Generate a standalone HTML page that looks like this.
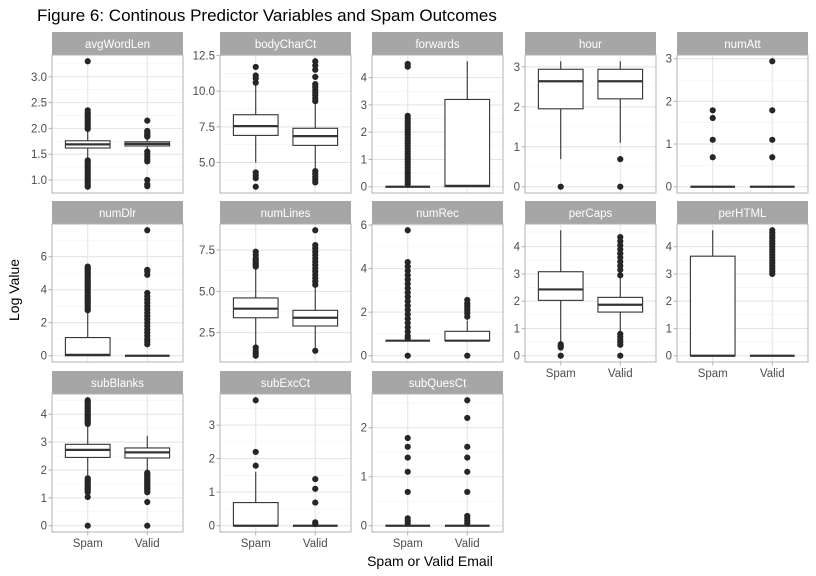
<!DOCTYPE html>
<html><head><meta charset="utf-8"><style>
body{margin:0;background:#fff;}
svg{display:block;font-family:"Liberation Sans",sans-serif;}
</style></head><body>
<svg id="chart" width="816" height="576" xmlns="http://www.w3.org/2000/svg">
<text x="37" y="21" font-size="17" fill="#000">Figure 6: Continous Predictor Variables and Spam Outcomes</text>
<text transform="translate(19,290) rotate(-90)" text-anchor="middle" font-size="14" fill="#000">Log Value</text>
<text x="430" y="566" text-anchor="middle" font-size="14" fill="#000">Spam or Valid Email</text>
<g id="panels"></g>
</svg>
<script>
const categories = ["Spam","Valid"];
const panelNames = ["avgWordLen","bodyCharCt","forwards","hour","numAtt","numDlr","numLines","numRec","perCaps","perHTML","subBlanks","subExcCt","subQuesCt"];
const yTicks = [[1,1.5,2,2.5,3],[5,7.5,10,12.5],[0,1,2,3,4],[0,1,2,3],[0,1,2,3],[0,2,4,6],[2.5,5,7.5],[0,2,4,6],[0,1,2,3,4],[0,1,2,3,4],[0,1,2,3,4],[0,1,2,3],[0,1,2]];
// box stats per panel: [q1, median, q3, whiskerLow, whiskerHigh]
const spamStats = [[1.62,1.69,1.76,1.41,1.97],[6.9,7.55,8.35,5.0,10.5],[0,0,0,0,0],[1.95,2.64,2.94,0.69,3.14],[0,0,0,0,0],[0,0.05,1.1,0,2.7],[3.4,3.95,4.6,1.7,6.4],[0.69,0.69,0.69,0.69,0.69],[2.03,2.43,3.08,0.5,4.6],[0,0,3.65,0,4.6],[2.45,2.72,2.92,1.75,3.6],[0,0,0.69,0,1.61],[0,0,0,0,0]];
const validStats = [[1.66,1.7,1.74,1.57,1.82],[6.2,6.85,7.4,4.5,9.2],[0,0.03,3.2,0,4.6],[2.2,2.64,2.94,1.1,3.14],[0,0,0,0,0],[0,0,0,0,0],[2.9,3.4,3.85,1.6,5.3],[0.69,0.69,1.12,0.69,1.61],[1.6,1.87,2.14,0.85,2.9],[0,0,0,0,0],[2.43,2.63,2.79,1.95,3.22],[0,0,0,0,0],[0,0,0,0,0]];
const spamOutliers = [
 [3.3,2.35,2.3,2.26,2.22,2.18,2.14,2.1,2.06,2.02,1.99,1.38,1.34,1.3,1.26,1.22,1.18,1.14,1.1,1.06,1.02,0.98,0.94,0.9,0.87],
 [11.7,11.1,10.9,10.6,4.3,4.1,3.9,3.3],
 [4.5,4.4,2.6,2.5,2.4,2.3,2.2,2.1,2.0,1.9,1.8,1.7,1.6,1.5,1.4,1.3,1.2,1.1,1.0,0.9,0.8,0.7,0.6,0.5,0.4,0.3,0.2,0.1],
 [0],
 [0.69,1.1,1.61,1.79],
 [5.4,5.3,5.2,5.1,5.0,4.9,4.8,4.7,4.6,4.5,4.4,4.3,4.2,4.1,4.0,3.9,3.8,3.7,3.6,3.5,3.4,3.3,3.2,3.1,3.0,2.9,2.8,2.75],
 [7.4,7.2,7.0,6.9,6.8,6.7,6.6,6.5,1.6,1.4,1.25,1.1],
 [5.76,4.3,4.1,3.9,3.7,3.5,3.3,3.1,2.9,2.7,2.5,2.3,2.1,1.9,1.7,1.5,1.3,1.1,0.9,0.8,0],
 [0.42,0.35,0.3,0],
 [],
 [4.5,4.45,4.4,4.35,4.3,4.25,4.2,4.15,4.1,4.05,4.0,3.95,3.9,3.85,3.8,3.75,3.7,3.65,1.7,1.65,1.6,1.55,1.5,1.45,1.4,1.35,1.3,1.25,1.2,1.03,0],
 [1.79,2.2,3.74],
 [0.05,0.1,0.15,0.69,1.1,1.39,1.61,1.79]
];
const validOutliers = [
 [2.15,1.95,1.92,1.89,1.86,1.84,1.55,1.5,1.45,1.4,1.36,1.0,0.92,0.88],
 [12.1,11.8,11.5,11.0,10.5,10.3,10.1,9.9,9.7,9.5,9.3,4.4,4.2,4.0,3.8,3.6],
 [],
 [0.69,0],
 [0.69,1.1,1.79,2.94],
 [7.6,5.2,5.1,4.9,3.8,3.6,3.4,3.2,3.0,2.8,2.6,2.4,2.2,2.0,1.8,1.6,1.4,1.2,1.0,0.85,0.69],
 [8.7,7.8,7.6,7.4,7.2,7.0,6.8,6.6,6.4,6.2,6.0,5.8,5.6,5.4,1.4],
 [2.56,2.4,2.3,2.2,2.08,1.95,1.79,0],
 [4.35,4.2,4.05,3.9,3.75,3.6,3.45,3.3,3.15,2.95,0.8,0.7,0.6,0.5,0.4,0],
 [4.6,4.5,4.4,4.3,4.2,4.1,4.0,3.9,3.8,3.7,3.6,3.5,3.4,3.3,3.2,3.1,3.0],
 [1.9,1.85,1.8,1.75,1.7,1.65,1.6,1.55,1.5,1.45,1.4,1.35,1.3,1.25,1.2,0.85,0],
 [0.05,0.1,0.69,1.1,1.39],
 [0.05,0.1,0.15,0.2,0.69,1.1,1.39,1.61,2.2,2.56]
];

const NS="http://www.w3.org/2000/svg";
const root=document.getElementById('panels');
const colLeft=[52,220,372,525,677], rowTop=[32,201,371];
const PW=131, SH=23, PH=138;
function mk(tag,attrs,parent){const e=document.createElementNS(NS,tag);for(const k in attrs)e.setAttribute(k,attrs[k]);parent.appendChild(e);return e;}

panelNames.forEach((name,i)=>{
  const col=i%5,row=Math.floor(i/5);
  const L=colLeft[col],T=rowTop[row]+SH,B=T+PH;
  const g=mk('g',{},root);
  
  
  const all=[...spamStats[i],...validStats[i],...spamOutliers[i],...validOutliers[i]];
  let mn=Math.min(...all),mx=Math.max(...all);
  const r=mx-mn||1; mn-=0.05*r; mx+=0.05*r;
  const y=v=>B-(v-mn)/(mx-mn)*PH;
  const x=k=>L+(k+0.6)/2.2*PW;
  const st=mk('rect',{x:L,y:rowTop[row],width:PW,height:SH,fill:'#a6a6a6'},g);
  
  
  const stt=mk('text',{x:L+PW/2,y:rowTop[row]+16,'text-anchor':'middle','font-size':'11.5',fill:'#fff'},g);
  stt.textContent=name;
  
  
  const tk=yTicks[i],step=tk.length>1?tk[1]-tk[0]:1;
  const minors=[tk[0]-step/2,...tk.map(t=>t+step/2)];
  minors.forEach(v=>{if(v>mn&&v<mx)mk('line',{x1:L,x2:L+PW,y1:y(v),y2:y(v),stroke:'#f2f2f2','stroke-width':0.6},g);});
  tk.forEach(v=>{if(v<mn||v>mx)return;
    mk('line',{x1:L,x2:L+PW,y1:y(v),y2:y(v),stroke:'#e3e3e3','stroke-width':1},g);
    mk('line',{x1:L-3.5,x2:L,y1:y(v),y2:y(v),stroke:'#b3b3b3','stroke-width':1},g);
    const t=mk('text',{x:L-5,y:y(v)+4,'text-anchor':'end','font-size':'11.5',fill:'#4d4d4d'},g);
    t.textContent=(tk.some(q=>q%1!==0))?v.toFixed(1):String(v);
    
    
  });
  [0,1].forEach(k=>mk('line',{x1:x(k),x2:x(k),y1:T,y2:B,stroke:'#e3e3e3','stroke-width':1},g));
  [spamStats[i],validStats[i]].forEach((s,k)=>{
    const cx=x(k),hw=0.375/2.2*PW;
    const bg=mk('g',{},g);
    
    
    mk('line',{x1:cx,x2:cx,y1:y(s[3]),y2:y(s[0]),stroke:'#333','stroke-width':1.1},bg);
    mk('line',{x1:cx,x2:cx,y1:y(s[2]),y2:y(s[4]),stroke:'#333','stroke-width':1.1},bg);
    mk('rect',{x:cx-hw,y:y(s[2]),width:2*hw,height:Math.max(0,y(s[0])-y(s[2])),fill:'#fff',stroke:'#333','stroke-width':1.1},bg);
    mk('line',{x1:cx-hw,x2:cx+hw,y1:y(s[1]),y2:y(s[1]),stroke:'#333','stroke-width':2.2},bg);
    const outs=k===0?spamOutliers[i]:validOutliers[i];
    outs.forEach(v=>{
      const p=mk('circle',{cx:cx,cy:y(v),r:3.1,fill:'#262626'},bg);
      
      
    });
  });
  mk('rect',{x:L,y:T,width:PW,height:PH,fill:'none',stroke:'#b3b3b3','stroke-width':1},g);
  if(row===2||(row===1&&col>=3)){
    [0,1].forEach(k=>{
      mk('line',{x1:x(k),x2:x(k),y1:B,y2:B+3.5,stroke:'#b3b3b3','stroke-width':1},g);
      const t=mk('text',{x:x(k),y:B+15,'text-anchor':'middle','font-size':'11.5',fill:'#4d4d4d'},g);
      t.textContent=categories[k];
      
      
    });
  }
});
</script>
</body></html>
